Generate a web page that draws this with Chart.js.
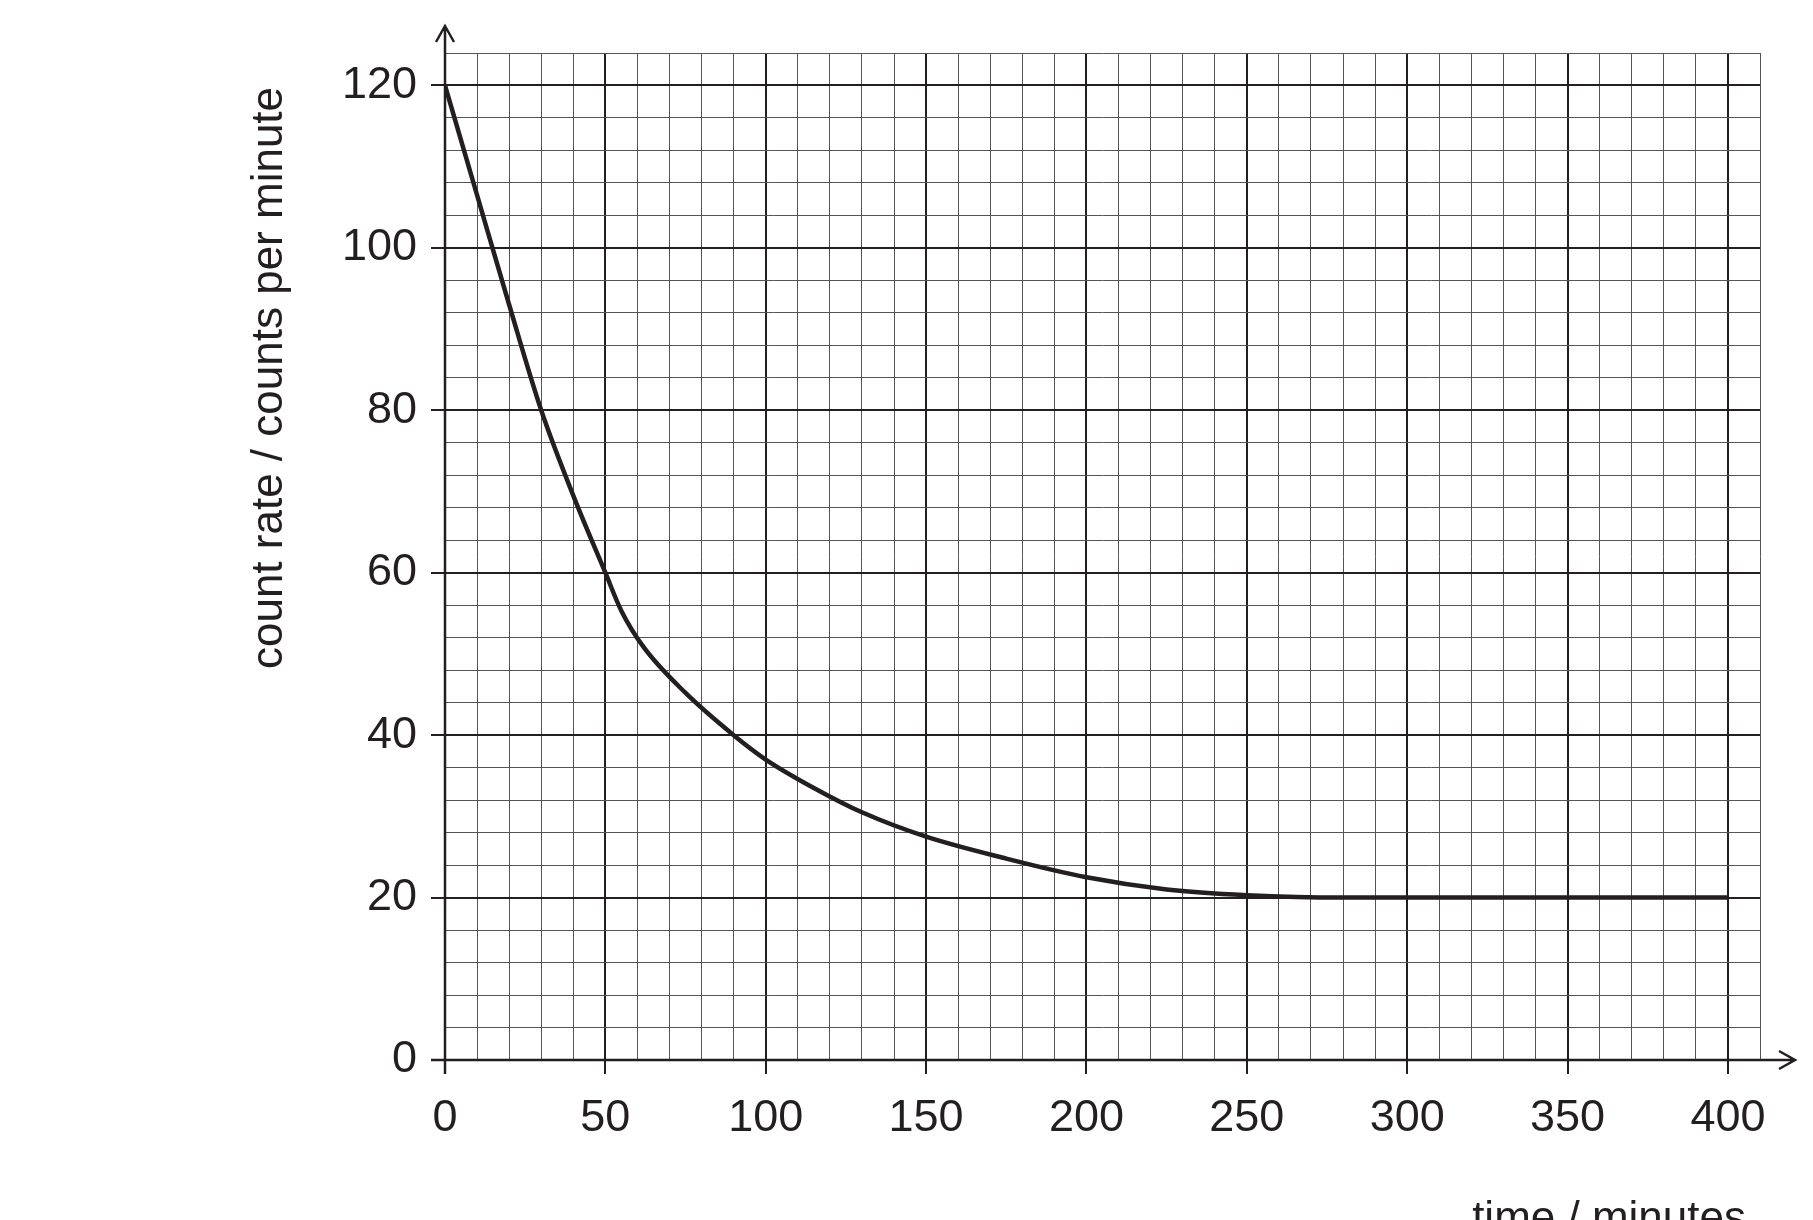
<!DOCTYPE html>
<html><head><meta charset="utf-8">
<script src="https://cdn.jsdelivr.net/npm/chart.js@4/dist/chart.umd.min.js"></script>
<style>html,body{margin:0;padding:0;background:#fff}#w{width:1813px;height:1220px}</style>
</head><body><div id="w"><canvas id="c"></canvas></div>
<script>
const times = [0, 10, 20, 30, 40, 50, 55, 62, 75, 90, 100, 115, 130, 150, 175, 200, 225, 250, 280, 300, 350, 400];
const counts = [120, 106.5, 93, 80, 69.5, 60, 55.3, 50.8, 45.2, 40, 37, 33.5, 30.5, 27.5, 24.8, 22.5, 21, 20.3, 20, 20, 20, 20];
const xTicks = [0, 50, 100, 150, 200, 250, 300, 350, 400];
const yTicks = [0, 20, 40, 60, 80, 100, 120];
const xTitle = 'time / minutes';
const yTitle = 'count rate / counts per minute';
const ink = '#231f20';
const font = '"Liberation Sans", Arial, sans-serif';

const decor = {
  id: 'decor',
  afterDraw(chart) {
    const {ctx, scales: {x, y}} = chart;
    const x0 = x.getPixelForValue(0), y0 = y.getPixelForValue(0);
    ctx.save();
    ctx.strokeStyle = ink; ctx.lineWidth = 2.5;
    const topY = 26, rightX = 1795;
    ctx.beginPath(); ctx.moveTo(x0, y0 + 14); ctx.lineTo(x0, topY);
    ctx.moveTo(x0 - 9, topY + 16); ctx.lineTo(x0, topY); ctx.lineTo(x0 + 9, topY + 16);
    ctx.moveTo(x0 - 14, y0); ctx.lineTo(rightX, y0);
    ctx.moveTo(rightX - 16, y0 - 9); ctx.lineTo(rightX, y0); ctx.lineTo(rightX - 16, y0 + 9);
    ctx.stroke();
    ctx.fillStyle = ink;
    ctx.font = '44px ' + font;
    ctx.textAlign = 'right'; ctx.textBaseline = 'alphabetic';
    ctx.fillText(xTitle, 1746, 1232);
    ctx.translate(270, 378);
    ctx.rotate(-Math.PI / 2);
    ctx.textAlign = 'center'; ctx.textBaseline = 'middle';
    ctx.fillText(yTitle, 0, 0);
    ctx.restore();
  }
};

new Chart(document.getElementById('c'), {
  type: 'line',
  data: { datasets: [{ data: times.map((t, i) => ({x: t, y: counts[i]})), borderColor: ink, borderWidth: 4.5, pointRadius: 0, cubicInterpolationMode: 'monotone', fill: false }] },
  options: {
    responsive: true, maintainAspectRatio: false, animation: false,
    layout: { padding: { top: 53, right: 53, left: 0, bottom: 0 } },
    plugins: { legend: { display: false }, tooltip: { enabled: false } },
    scales: {
      x: {
        type: 'linear', min: 0, max: 410,
        afterFit(s) { s.height = 160; },
        afterBuildTicks(s) { s.ticks = []; for (let v = 0; v <= 410; v += 10) s.ticks.push({value: v}); },
        border: { display: false },
        grid: {
          color: c => c.tick && c.tick.value % 50 === 0 ? ink : '#555',
          lineWidth: c => c.tick && c.tick.value % 50 === 0 ? 2 : 1,
          tickLength: 14, tickColor: c => c.tick && c.tick.value % 50 === 0 ? ink : 'rgba(0,0,0,0)'
        },
        ticks: { autoSkip: false, maxRotation: 0, padding: 18, color: ink, font: { size: 45, family: font },
          callback: v => xTicks.includes(v) ? String(v) : '' }
      },
      y: {
        type: 'linear', min: 0, max: 124,
        afterFit(s) { s.width = 445; },
        afterBuildTicks(s) { s.ticks = []; for (let v = 0; v <= 124; v += 4) s.ticks.push({value: v}); },
        border: { display: false },
        grid: {
          color: c => c.tick && c.tick.value % 20 === 0 ? ink : '#555',
          lineWidth: c => c.tick && c.tick.value % 20 === 0 ? 2 : 1,
          tickLength: 14, tickColor: c => c.tick && c.tick.value % 20 === 0 ? ink : 'rgba(0,0,0,0)'
        },
        ticks: { autoSkip: false, padding: 14, color: ink, font: { size: 45, family: font },
          callback: v => yTicks.includes(v) ? String(v) : '' }
      }
    }
  },
  plugins: [decor]
});
</script></body></html>
